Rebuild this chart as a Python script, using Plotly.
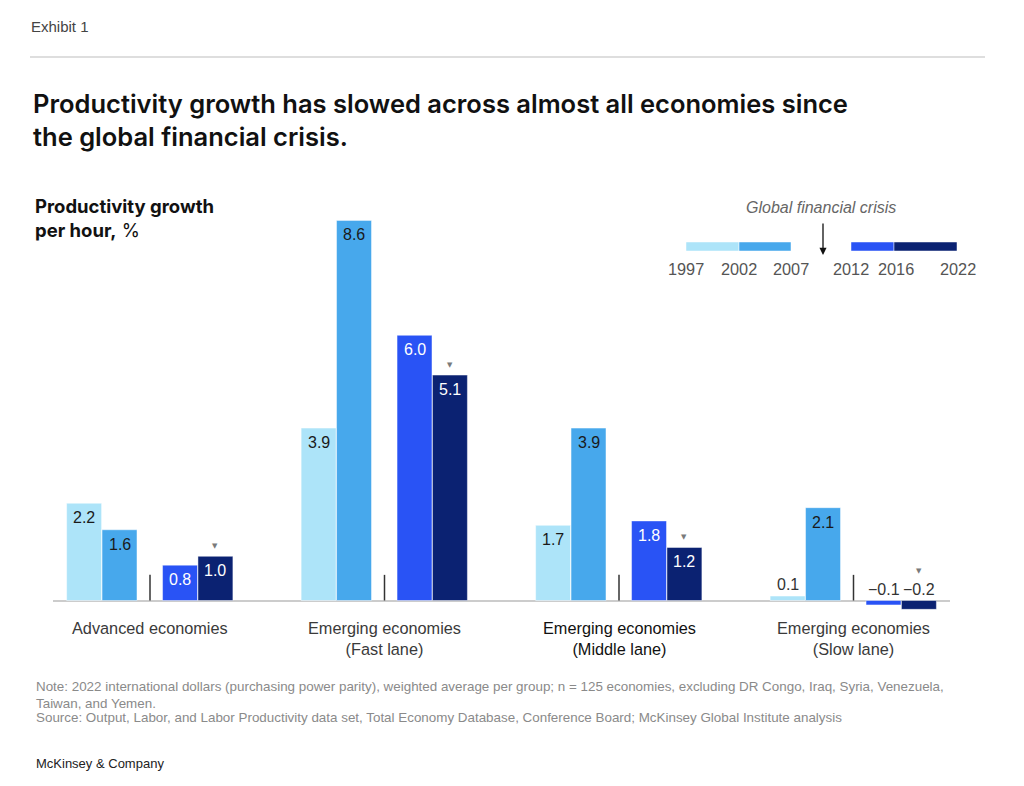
import plotly.graph_objects as go

# ---------------- data ----------------
groups = ["Advanced economies",
          "Emerging economies<br>(Fast lane)",
          "Emerging economies<br>(Middle lane)",
          "Emerging economies<br>(Slow lane)"]
periods = ["1997–2002", "2002–07", "2012–16", "2016–22"]
v_1997_2002 = [2.2, 3.9, 1.7, 0.1]
v_2002_2007 = [1.6, 8.6, 3.9, 2.1]
v_2012_2016 = [0.8, 6.0, 1.8, -0.1]
v_2016_2022 = [1.0, 5.1, 1.2, -0.2]
series = [v_1997_2002, v_2002_2007, v_2012_2016, v_2016_2022]
legend_years = ["1997", "2002", "2007", "2012", "2016", "2022"]

colors = ["#ade4f9", "#47a8ec", "#2953f5", "#0b2272"]
label_colors = ["#1a1a1a", "#1a1a1a", "#ffffff", "#ffffff"]
offsets = [-0.281, -0.130, 0.128, 0.279]
bar_w = 0.149

BODY = "Liberation Sans, Arial, sans-serif"
HEAD = "Inter, Liberation Sans, sans-serif"

# plot area in pixels
L, R, T, B = 53, 950, 200, 620
W, H = 1024, 786


def pxx(x):
    return (x - L) / (R - L)


def pxy(y):
    return (B - y) / (B - T)


fig = go.Figure()
for i, vals in enumerate(series):
    fig.add_trace(go.Bar(
        x=[g + offsets[i] for g in range(len(groups))],
        y=vals,
        width=bar_w,
        name=periods[i],
        marker=dict(color=colors[i], line=dict(color="rgba(255,255,255,0.45)", width=1)),
        showlegend=False,
        hoverinfo="y",
    ))

ann = []
shapes = []

# bar value labels and markers
for i, vals in enumerate(series):
    for g, v in enumerate(vals):
        xv = g + offsets[i]
        txt = f"{v:.1f}".replace("-", "\u2212")
        if v >= 0.5:
            ann.append(dict(x=xv, y=v, xref="x", yref="y", text=txt, showarrow=False,
                            yanchor="top", yshift=-4,
                            font=dict(family=BODY, size=16, color=label_colors[i])))
        else:
            ann.append(dict(x=xv, y=max(v, 0), xref="x", yref="y", text=txt, showarrow=False,
                            yanchor="bottom", yshift=1,
                            font=dict(family=BODY, size=16, color="#333333")))
        if i == 3:
            ann.append(dict(x=xv, y=max(v, 0), xref="x", yref="y", text="▼", showarrow=False,
                            yanchor="bottom", yshift=4 if v >= 0.5 else 24,
                            font=dict(family="DejaVu Sans", size=7, color="#7a7a7a")))

# dividers between periods
for g in range(len(groups)):
    shapes.append(dict(type="line", xref="x", yref="y", x0=g, x1=g, y0=0, y1=0.58,
                       line=dict(color="#333333", width=1.5)))

# category labels
for g, name in enumerate(groups):
    ann.append(dict(x=g, y=0, xref="x", yref="y", text=name, showarrow=False,
                    yanchor="top", yshift=-16, align="center",
                    font=dict(family=BODY, size=16.3,
                              color="#111111" if g == 2 else "#3a3a3a")))

# header
ann.append(dict(x=pxx(29), y=pxy(27), xref="paper", yref="paper", text="Exhibit 1",
                showarrow=False, xanchor="left", yanchor="middle",
                font=dict(family=BODY, size=15, color="#444444")))
shapes.append(dict(type="line", xref="paper", yref="paper", x0=pxx(30), x1=pxx(985),
                   y0=pxy(57), y1=pxy(57), line=dict(color="#d3d3d3", width=1.5)))
ann.append(dict(x=pxx(31), y=pxy(86), xref="paper", yref="paper",
                text="Productivity growth has slowed across almost all economies since<br>the global financial crisis.",
                showarrow=False, xanchor="left", yanchor="top", align="left",
                font=dict(family=HEAD, size=25.5, color="#111111", weight=600)))
ann.append(dict(x=pxx(33), y=pxy(193), xref="paper", yref="paper",
                text="<b>Productivity growth</b><br><b>per hour,</b> %",
                showarrow=False, xanchor="left", yanchor="top", align="left",
                font=dict(family=HEAD, size=18.5, color="#111111")))

# period legend
ann.append(dict(x=pxx(821), y=pxy(207), xref="paper", yref="paper",
                text="<i>Global financial crisis</i>", showarrow=False,
                xanchor="center", yanchor="middle",
                font=dict(family=BODY, size=16, color="#666666")))
seg = [(686, 739, colors[0]), (739, 791, colors[1]), (851, 894, colors[2]), (894, 957, colors[3])]
for x0, x1, c in seg:
    shapes.append(dict(type="rect", xref="paper", yref="paper", x0=pxx(x0), x1=pxx(x1),
                       y0=pxy(251), y1=pxy(242), fillcolor=c,
                       line=dict(color="rgba(255,255,255,0.6)", width=0.8)))
ann.append(dict(x=pxx(823), y=pxy(255), ax=0, ay=-33, xref="paper", yref="paper",
                axref="pixel", ayref="pixel", text="", showarrow=True, arrowhead=2,
                arrowsize=1.1, arrowwidth=1.3, arrowcolor="#111111"))
year_x = [686, 739, 791, 851, 896, 958]
for yx, yt in zip(year_x, legend_years):
    ann.append(dict(x=pxx(yx), y=pxy(269), xref="paper", yref="paper", text=yt,
                    showarrow=False, xanchor="center", yanchor="middle",
                    font=dict(family=BODY, size=16.3, color="#555555")))

# notes
ann.append(dict(x=pxx(34), y=pxy(677), xref="paper", yref="paper",
                text="Note: 2022 international dollars (purchasing power parity), weighted average per group; n = 125 economies, excluding DR Congo, Iraq, Syria, Venezuela,<br>Taiwan, and Yemen.",
                showarrow=False, xanchor="left", yanchor="top", align="left",
                font=dict(family=BODY, size=13.4, color="#8a8a8a")))
ann.append(dict(x=pxx(34), y=pxy(717), xref="paper", yref="paper",
                text="Source: Output, Labor, and Labor Productivity data set, Total Economy Database, Conference Board; McKinsey Global Institute analysis",
                showarrow=False, xanchor="left", yanchor="middle", align="left",
                font=dict(family=BODY, size=13.4, color="#8a8a8a")))
ann.append(dict(x=pxx(34), y=pxy(763), xref="paper", yref="paper",
                text="McKinsey &amp; Company", showarrow=False, xanchor="left", yanchor="middle",
                font=dict(family=BODY, size=13, color="#222222")))

zero_px = 600.5
unit_px = 44.2
fig.update_layout(
    width=W, height=H,
    margin=dict(l=L, r=W - R, t=T, b=H - B),
    paper_bgcolor="white", plot_bgcolor="white",
    barmode="overlay",
    annotations=ann, shapes=shapes,
    xaxis=dict(range=[(L - 150) / 234.5, (R - 150) / 234.5], showgrid=False,
               zeroline=False, showticklabels=False, fixedrange=True),
    yaxis=dict(range=[(zero_px - B) / unit_px, (zero_px - T) / unit_px], showgrid=False,
               zeroline=True, zerolinecolor="#cccccc", zerolinewidth=1.5,
               showticklabels=False, fixedrange=True),
    font=dict(family=BODY),
)

fig.write_html("out.html")
